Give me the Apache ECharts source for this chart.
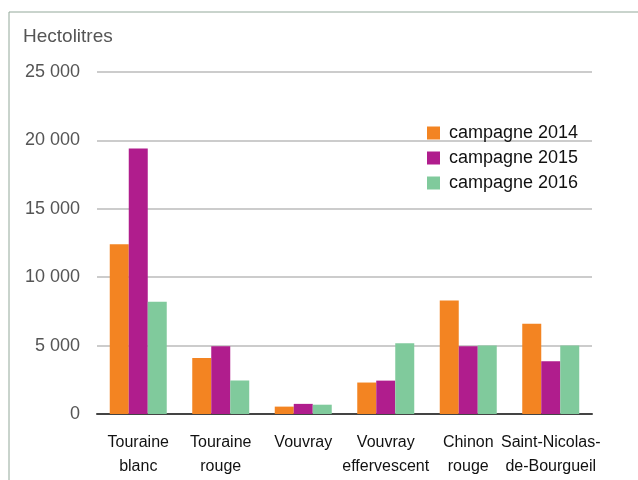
<!DOCTYPE html>
<html>
<head>
<meta charset="utf-8">
<script src="https://cdn.jsdelivr.net/npm/echarts@6/dist/echarts.min.js"></script>
<style>
  html, body { margin: 0; padding: 0; background: #fff; }
  #chart { width: 638px; height: 480px; }
</style>
</head>
<body>
<div id="chart"></div>
<script>
const categories = [
  'Touraine\nblanc',
  'Touraine\nrouge',
  'Vouvray',
  'Vouvray\neffervescent',
  'Chinon\nrouge',
  'Saint-Nicolas-\nde-Bourgueil',
];
const campagne2014 = [12400, 4100, 540, 2300, 8300, 6600];
const campagne2015 = [19400, 4950, 740, 2440, 4960, 3850];
const campagne2016 = [8200, 2450, 680, 5180, 5000, 5000];
const seriesNames = ['campagne 2014', 'campagne 2015', 'campagne 2016'];
const colors = ['#f38422', '#b01d8d', '#80ca9c'];

const myChart = echarts.init(document.getElementById('chart'));

// séparateur de milliers : espace
const fmt = (v) => {
  const s = String(v);
  return s.length > 3 ? s.slice(0, -3) + ' ' + s.slice(-3) : s;
};

const option = {
  animation: false,
  textStyle: { fontFamily: '"Liberation Sans", Arial, sans-serif' },
  graphic: [{
    type: 'rect',
    shape: { x: 9, y: 12, width: 700, height: 600 },
    style: { fill: 'none', stroke: '#93a89a', lineWidth: 1 },
    silent: true,
  }],
  grid: {
    left: 97,
    right: 46,
    top: 72,
    bottom: 66,
  },
  legend: {
    orient: 'vertical',
    left: 427,
    top: 124,
    padding: 0,
    itemWidth: 13,
    itemHeight: 13,
    itemGap: 7,
    icon: 'rect',
    textStyle: { fontSize: 18, color: '#111', padding: [0, 0, 0, 4] },
    data: seriesNames,
  },
  xAxis: {
    type: 'category',
    data: categories,
    axisTick: { show: false },
    axisLine: { lineStyle: { color: '#444', width: 2 } },
    axisLabel: {
      interval: 0,
      color: '#111',
      fontSize: 16,
      lineHeight: 24,
      margin: 17,
    },
  },
  yAxis: {
    type: 'value',
    min: 0,
    max: 25000,
    interval: 5000,
    name: 'Hectolitres',
    nameLocation: 'end',
    nameGap: 26,
    nameTextStyle: { color: '#555', fontSize: 19, align: 'left', padding: [0, 0, 0, -74] },
    axisLine: { show: false },
    axisTick: { show: false },
    axisLabel: {
      color: '#555',
      fontSize: 18,
      margin: 17,
      formatter: fmt,
    },
    splitLine: { lineStyle: { color: '#cccccc', width: 2 } },
  },
  series: [
    { name: seriesNames[0], type: 'bar', data: campagne2014, itemStyle: { color: colors[0] } },
    { name: seriesNames[1], type: 'bar', data: campagne2015, itemStyle: { color: colors[1] } },
    { name: seriesNames[2], type: 'bar', data: campagne2016, itemStyle: { color: colors[2] } },
  ].map(s => Object.assign(s, { barWidth: 19, barGap: '0%' })),
};

myChart.setOption(option);
</script>
</body>
</html>
